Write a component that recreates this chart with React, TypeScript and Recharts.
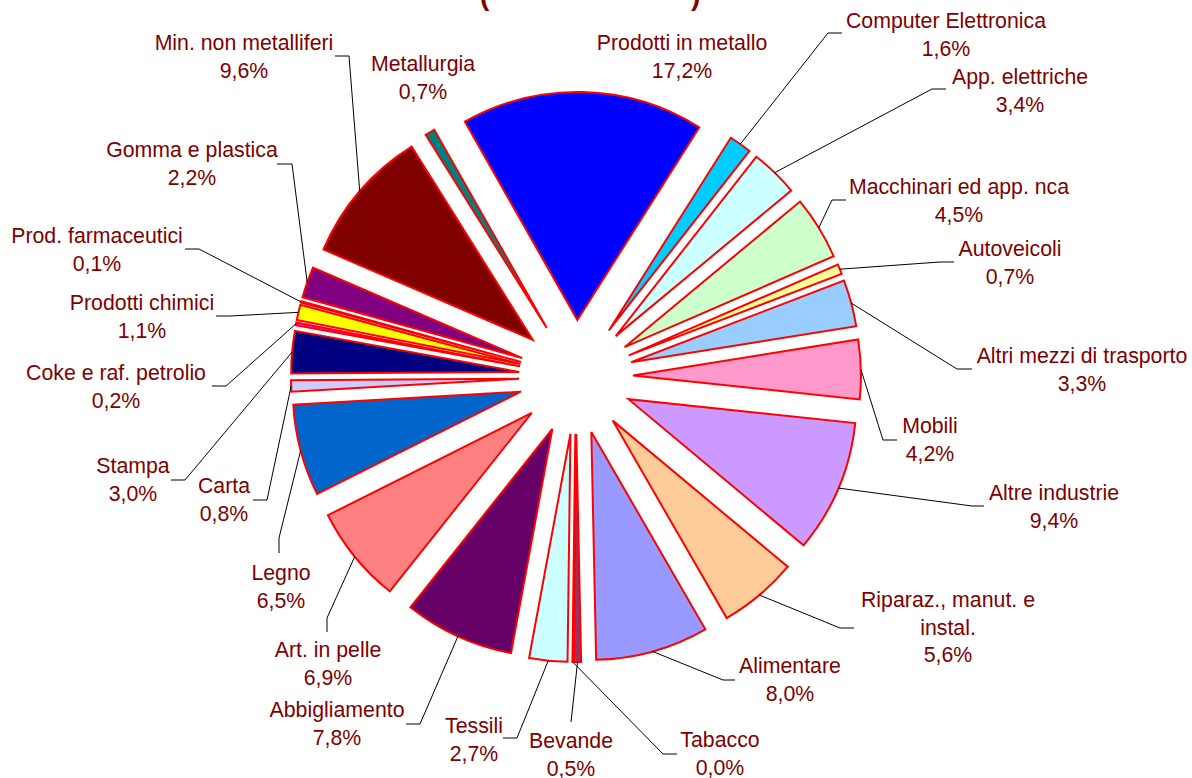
import React from 'react';
import { PieChart, Pie, Cell, Sector } from 'recharts';

// settori manifatturieri (ordine Ateco), quota %
const SECTORS = [
  'Alimentare', 'Bevande', 'Tabacco', 'Tessili', 'Abbigliamento', 'Art. in pelle',
  'Legno', 'Carta', 'Stampa', 'Coke e raf. petrolio', 'Prodotti chimici',
  'Prod. farmaceutici', 'Gomma e plastica', 'Min. non metalliferi', 'Metallurgia',
  'Prodotti in metallo', 'Computer Elettronica', 'App. elettriche',
  'Macchinari ed app. nca', 'Autoveicoli', 'Altri mezzi di trasporto', 'Mobili',
  'Altre industrie', 'Riparaz., manut. e instal.',
];
const SHARES = [
  8.0, 0.5, 0.04, 2.7, 7.8, 6.9,
  6.5, 0.8, 3.0, 0.2, 1.1,
  0.1, 2.2, 9.6, 0.7,
  17.2, 1.6, 3.4,
  4.5, 0.7, 3.3, 4.2,
  9.4, 5.6,
];
const COLORS = [
  '#9999FF', '#993366', '#FFFFCC', '#CCFFFF', '#660066', '#FF8080',
  '#0066CC', '#CCCCFF', '#000080', '#FF00FF', '#FFFF00',
  '#00FFFF', '#800080', '#800000', '#008080',
  '#0000FF', '#00CCFF', '#CCFFFF',
  '#CCFFCC', '#FFFF99', '#99CCFF', '#FF99CC',
  '#CC99FF', '#FFCC99',
];

const data = SECTORS.map((name, i) => ({ name, value: SHARES[i] }));

const CX = 576;
const CY = 377;
const R = 228;
const EXPLODE = 57;
const RAD = Math.PI / 180;
const TEXT = '#800000';
const LINE_H = 27.5;

const WRAP: Record<string, string[]> = {
  'Riparaz., manut. e instal.': ['Riparaz., manut. e', 'instal.'],
};

// posizione etichette (centro testo, baseline prima riga) e gomito linea guida
const LABELS: Record<string, { x: number; y: number; lead: number[][] }> = {
  'Alimentare': { x: 790, y: 673, lead: [[723, 680], [735, 680]] },
  'Bevande': { x: 571, y: 748, lead: [[571, 722]] },
  'Tabacco': { x: 720, y: 747, lead: [[663, 754], [677, 754]] },
  'Tessili': { x: 474, y: 733, lead: [[517, 738], [503, 738]] },
  'Abbigliamento': { x: 337, y: 717, lead: [[420, 724], [406, 724]] },
  'Art. in pelle': { x: 328, y: 657, lead: [[327, 618], [327, 632]] },
  'Legno': { x: 281, y: 580, lead: [[279, 538], [279, 553]] },
  'Carta': { x: 224, y: 493, lead: [[267, 500], [253, 500]] },
  'Stampa': { x: 133, y: 473, lead: [[185, 480], [171, 480]] },
  'Coke e raf. petrolio': { x: 116, y: 380, lead: [[226, 386], [212, 386]] },
  'Prodotti chimici': { x: 142, y: 310, lead: [[230, 316], [216, 316]] },
  'Prod. farmaceutici': { x: 97, y: 243, lead: [[199, 249], [185, 249]] },
  'Gomma e plastica': { x: 192, y: 157, lead: [[292, 164], [277, 164]] },
  'Min. non metalliferi': { x: 244, y: 50, lead: [[349, 56], [335, 56]] },
  'Metallurgia': { x: 423, y: 71, lead: [] },
  'Prodotti in metallo': { x: 682, y: 50, lead: [] },
  'Computer Elettronica': { x: 946, y: 28, lead: [[828, 33], [842, 33]] },
  'App. elettriche': { x: 1020, y: 84, lead: [[932, 89], [946, 89]] },
  'Macchinari ed app. nca': { x: 959, y: 194, lead: [[832, 200], [846, 200]] },
  'Autoveicoli': { x: 1010, y: 256, lead: [[940, 262], [954, 262]] },
  'Altri mezzi di trasporto': { x: 1082, y: 363, lead: [[957, 369], [972, 369]] },
  'Mobili': { x: 930, y: 433, lead: [[883, 440], [897, 440]] },
  'Altre industrie': { x: 1054, y: 500, lead: [[972, 506], [984, 506]] },
  'Riparaz., manut. e instal.': { x: 948, y: 607, lead: [[840, 628], [854, 628]] },
};

const ExplodedSector = (props: any) => {
  const { cx, cy, midAngle } = props;
  const dx = EXPLODE * Math.cos(-midAngle * RAD);
  const dy = EXPLODE * Math.sin(-midAngle * RAD);
  return <Sector {...props} cx={cx + dx} cy={cy + dy} />;
};

const renderLabel = (props: any) => {
  const { cx, cy, midAngle, outerRadius, name, value } = props;
  const pos = LABELS[name];
  if (!pos) return null;
  const r = outerRadius + EXPLODE;
  const ax = cx + r * Math.cos(-midAngle * RAD);
  const ay = cy + r * Math.sin(-midAngle * RAD);
  const lines = [...(WRAP[name] || [name]), `${value.toFixed(1).replace('.', ',')}%`];
  const pts = [[ax, ay], ...pos.lead];
  return (
    <g>
      {pos.lead.length > 0 && (
        <polyline
          points={pts.map(p => p.join(',')).join(' ')}
          fill="none"
          stroke="#000"
          strokeWidth={1}
        />
      )}
      <text x={pos.x} y={pos.y} textAnchor="middle" fill={TEXT} fontSize={21.3}>
        {lines.map((l, i) => (
          <tspan key={i} x={pos.x} dy={i === 0 ? 0 : LINE_H}>{l}</tspan>
        ))}
      </text>
    </g>
  );
};

const App: React.FC = () => (
  <div style={{ position: 'absolute', left: 0, top: 0, width: 1192, height: 778, background: '#fff', fontFamily: '"Liberation Sans", Arial, sans-serif' }}>
    <PieChart width={1192} height={778} margin={{ top: 0, right: 0, bottom: 0, left: 0 }}>
      <text x={480} y={5} fill={TEXT} fontSize={28} fontWeight="bold">(</text>
      <text x={691} y={5} fill={TEXT} fontSize={28} fontWeight="bold">)</text>
      <Pie
        data={data}
        dataKey="value"
        nameKey="name"
        cx={CX}
        cy={CY}
        outerRadius={R}
        startAngle={-60}
        endAngle={-420}
        stroke="#FF0000"
        strokeWidth={2}
        shape={ExplodedSector}
        label={renderLabel}
        labelLine={false}
        isAnimationActive={false}
      >
        {data.map((d, i) => (
          <Cell key={d.name} fill={COLORS[i]} />
        ))}
      </Pie>
    </PieChart>
  </div>
);

export default App;
